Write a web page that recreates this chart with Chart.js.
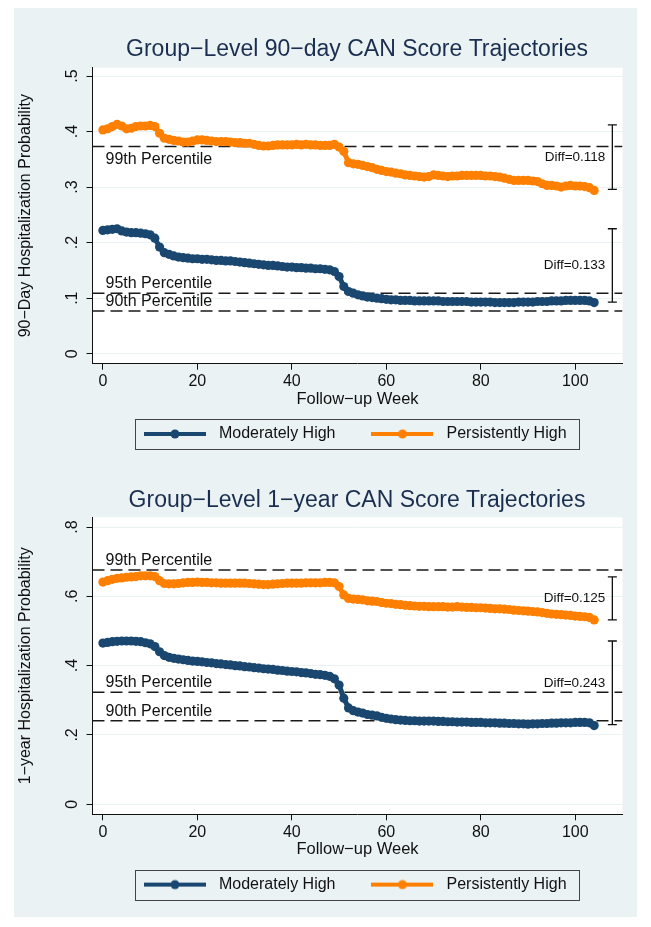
<!DOCTYPE html>
<html>
<head>
<meta charset="utf-8">
<script src="https://cdn.jsdelivr.net/npm/chart.js@4.4.1/dist/chart.umd.min.js"></script>
<style>
  html, body { margin: 0; padding: 0; background: #fff; }
  #page { position: relative; width: 651px; height: 927px; overflow: hidden; }
  #panel { position: absolute; left: 14px; top: 8px; width: 623px; height: 909px; background: #eaf2f3; }
  canvas { position: absolute; left: 0; }
  #c1 { top: 0; }
  #c2 { top: 480px; }
</style>
</head>
<body>
<div id="page">
  <div id="panel"></div>
  <canvas id="c1" width="651" height="480"></canvas>
  <canvas id="c2" width="651" height="447"></canvas>
</div>
<script>
// follow-up weeks
var weeks = [0,1,2,3,4,5,6,7,8,9,10,11,12,13,14,15,16,17,18,19,20,21,22,23,24,25,26,27,28,29,
  30,31,32,33,34,35,36,37,38,39,40,41,42,43,44,45,46,47,48,49,50,51,52,53,54,55,56,57,58,59,
  60,61,62,63,64,65,66,67,68,69,70,71,72,73,74,75,76,77,78,79,80,81,82,83,84,85,86,87,88,89,
  90,91,92,93,94,95,96,97,98,99,100,101,102,103,104];

// 90-day probabilities
var moderate90 = [0.222,0.223,0.224,0.225,0.221,0.219,0.218,0.218,0.217,0.216,
  0.214,0.208,0.192,0.182,0.179,0.176,0.174,0.173,0.172,0.171,
  0.171,0.170,0.170,0.169,0.168,0.168,0.167,0.167,0.166,0.165,
  0.164,0.163,0.162,0.161,0.160,0.159,0.159,0.158,0.157,0.156,
  0.156,0.155,0.155,0.154,0.154,0.153,0.153,0.152,0.151,0.148,
  0.139,0.121,0.112,0.109,0.106,0.104,0.102,0.101,0.100,0.099,
  0.098,0.097,0.097,0.096,0.096,0.096,0.095,0.095,0.095,0.095,
  0.095,0.095,0.094,0.094,0.094,0.094,0.094,0.094,0.093,0.093,
  0.093,0.093,0.093,0.092,0.092,0.092,0.092,0.092,0.093,0.093,
  0.093,0.093,0.094,0.094,0.094,0.095,0.095,0.095,0.096,0.096,
  0.096,0.096,0.096,0.095,0.092];
var persistent90 = [0.403,0.405,0.409,0.413,0.410,0.405,0.406,0.409,0.410,0.410,
  0.411,0.409,0.397,0.388,0.386,0.384,0.383,0.381,0.381,0.383,
  0.385,0.385,0.384,0.383,0.382,0.382,0.382,0.381,0.380,0.380,
  0.379,0.379,0.377,0.375,0.374,0.374,0.375,0.376,0.376,0.376,
  0.376,0.377,0.376,0.377,0.376,0.376,0.375,0.375,0.375,0.377,
  0.372,0.364,0.344,0.342,0.341,0.339,0.337,0.335,0.332,0.330,
  0.328,0.327,0.325,0.324,0.322,0.321,0.320,0.319,0.318,0.319,
  0.322,0.321,0.320,0.319,0.320,0.320,0.321,0.321,0.321,0.321,
  0.321,0.320,0.320,0.319,0.318,0.316,0.314,0.312,0.312,0.312,
  0.312,0.311,0.310,0.306,0.303,0.303,0.302,0.300,0.302,0.303,
  0.302,0.302,0.301,0.299,0.294];

// 1-year probabilities
var moderate1y = [0.465,0.467,0.469,0.470,0.471,0.471,0.471,0.470,0.469,0.466,
  0.463,0.455,0.440,0.429,0.424,0.421,0.419,0.417,0.415,0.413,
  0.412,0.411,0.409,0.408,0.406,0.405,0.403,0.402,0.400,0.399,
  0.397,0.396,0.394,0.393,0.391,0.390,0.389,0.387,0.386,0.384,
  0.383,0.382,0.380,0.379,0.377,0.375,0.374,0.372,0.369,0.362,
  0.344,0.306,0.278,0.270,0.266,0.263,0.259,0.257,0.255,0.251,
  0.248,0.246,0.244,0.243,0.242,0.241,0.241,0.240,0.240,0.240,
  0.240,0.239,0.239,0.238,0.238,0.237,0.237,0.237,0.236,0.236,
  0.236,0.235,0.235,0.235,0.234,0.234,0.233,0.233,0.232,0.232,
  0.231,0.232,0.232,0.233,0.233,0.234,0.234,0.235,0.235,0.235,
  0.236,0.236,0.236,0.235,0.227];
var persistent1y = [0.641,0.645,0.649,0.652,0.653,0.655,0.656,0.657,0.659,0.659,
  0.659,0.657,0.645,0.637,0.636,0.636,0.637,0.639,0.640,0.640,
  0.641,0.640,0.640,0.639,0.639,0.638,0.638,0.638,0.638,0.638,
  0.638,0.637,0.636,0.635,0.634,0.634,0.635,0.636,0.637,0.638,
  0.638,0.638,0.638,0.639,0.639,0.639,0.639,0.640,0.640,0.639,
  0.628,0.604,0.594,0.592,0.591,0.590,0.587,0.586,0.585,0.582,
  0.580,0.579,0.577,0.576,0.574,0.573,0.572,0.571,0.571,0.570,
  0.570,0.570,0.570,0.569,0.569,0.570,0.569,0.568,0.568,0.567,
  0.567,0.566,0.565,0.564,0.564,0.563,0.562,0.560,0.559,0.558,
  0.557,0.556,0.555,0.553,0.551,0.549,0.548,0.547,0.546,0.545,
  0.543,0.542,0.541,0.539,0.532];

var seriesNames = ['Moderately High', 'Persistently High'];
var xTicks = [0, 20, 40, 60, 80, 100];
var yTicks90 = [0, 0.1, 0.2, 0.3, 0.4, 0.5];
var yLabels90 = ['0', '.1', '.2', '.3', '.4', '.5'];
var yTicks1y = [0, 0.2, 0.4, 0.6, 0.8];
var yLabels1y = ['0', '.2', '.4', '.6', '.8'];

var pctNames = ['99th Percentile', '95th Percentile', '90th Percentile'];
var pct90 = [0.373, 0.109, 0.077];
var pct1y = [0.676, 0.323, 0.241];

var diffText90 = ['Diff=0.118', 'Diff=0.133'];
var diffHigh90 = [0.412, 0.225];
var diffLow90 = [0.296, 0.093];
var diffText1y = ['Diff=0.125', 'Diff=0.243'];
var diffHigh1y = [0.656, 0.471];
var diffLow1y = [0.532, 0.230];

var FONT = "'Liberation Sans', Arial, Helvetica, sans-serif";
var NAVY = '#1a476f';
var ORANGE = '#ff8000';
var X_MIN = -2.2, X_MAX = 110, DIFF_X = 107.85;
var TITLE_SIZE = 23;
var LEGEND_H = 57;   // 16 font + 31 padding + 10

function legendMark(color) {
  var c = document.createElement('canvas');
  c.width = 62; c.height = 12;
  var g = c.getContext('2d');
  g.strokeStyle = color;
  g.lineWidth = 4;
  g.beginPath(); g.moveTo(0, 6); g.lineTo(62, 6); g.stroke();
  g.fillStyle = color;
  g.beginPath(); g.arc(31, 6, 4.5, 0, Math.PI * 2); g.fill();
  return c;
}
var marks = [legendMark(NAVY), legendMark(ORANGE)];

function points(vals) {
  return weeks.map(function(w, i) { return {x: w, y: vals[i]}; });
}

function makeChart(id, cfg) {
  var xH = cfg.height - LEGEND_H - cfg.areaBottom;
  var xTitlePad = xH - 35.7 - 9.6;
  var legendTop = cfg.areaBottom + 70.3 - 39;
  var halfTitle = TITLE_SIZE * 1.2 / 2;

  var datasets = [
    { label: seriesNames[0], data: points(cfg.moderate), borderColor: NAVY, backgroundColor: NAVY,
      borderWidth: 5, pointRadius: 4.6, pointHoverRadius: 4.6, pointBorderWidth: 0, order: 0 },
    { label: seriesNames[1], data: points(cfg.persistent), borderColor: ORANGE, backgroundColor: ORANGE,
      borderWidth: 5, pointRadius: 4.6, pointHoverRadius: 4.6, pointBorderWidth: 0, order: 0 }
  ];
  cfg.pct.forEach(function(v) {
    datasets.push({ data: [{x: X_MIN, y: v}, {x: X_MAX, y: v}], borderColor: '#1a1a1a', borderWidth: 1.5,
      borderDash: [12, 6], pointRadius: 0, order: 1 });
  });

  var decor = {
    id: 'decor',
    afterUpdate: function(chart) {
      chart.titleBlock.left = 63;
      chart.titleBlock.right = chart.width;
      var lg = chart.legend;
      lg.left = 54.5; lg.right = chart.width;
      lg.top = legendTop; lg.bottom = legendTop + lg.height;
    },
    beforeDraw: function(chart) {
      var a = chart.chartArea, ctx = chart.ctx;
      ctx.save();
      ctx.fillStyle = '#fff';
      ctx.fillRect(a.left, a.top, a.right - a.left, a.bottom - a.top);
      ctx.restore();
    },
    afterDraw: function(chart) {
      var ctx = chart.ctx, a = chart.chartArea;
      var xs = chart.scales.x, ys = chart.scales.y;
      ctx.save();
      // percentile labels
      ctx.font = '16px ' + FONT;
      ctx.fillStyle = '#111';
      ctx.textAlign = 'left';
      ctx.textBaseline = 'alphabetic';
      cfg.pct.forEach(function(v, i) {
        var y = ys.getPixelForValue(v);
        ctx.fillText(pctNames[i], a.left + 13, cfg.pctSide[i] === 'below' ? y + 17.5 : y - 5);
      });
      // difference brackets
      var bx = xs.getPixelForValue(DIFF_X);
      ctx.strokeStyle = '#111';
      ctx.lineWidth = 1.3;
      ctx.font = '13.5px ' + FONT;
      ctx.textAlign = 'right';
      ctx.textBaseline = 'middle';
      cfg.diffText.forEach(function(t, i) {
        var y1 = ys.getPixelForValue(cfg.diffHigh[i]);
        var y2 = ys.getPixelForValue(cfg.diffLow[i]);
        ctx.beginPath();
        ctx.moveTo(bx, y1); ctx.lineTo(bx, y2);
        ctx.moveTo(bx - 4.5, y1); ctx.lineTo(bx + 4.5, y1);
        ctx.moveTo(bx - 4.5, y2); ctx.lineTo(bx + 4.5, y2);
        ctx.stroke();
        ctx.fillText(t, bx - 7, (y1 + y2) / 2);
      });
      // legend frame
      var lg = chart.legend;
      var pad = lg.options.labels.padding;
      var w = lg.lineWidths[0] - pad;
      var x0 = (lg.left + lg.right) / 2 - w / 2;
      var cy = lg.top + pad + 8;
      ctx.strokeStyle = '#444';
      ctx.lineWidth = 1;
      ctx.strokeRect(Math.round(x0 - 4) + 0.5, Math.round(cy - 15) + 0.5, Math.round(w + 16), 30);
      ctx.restore();
    }
  };

  return new Chart(document.getElementById(id), {
    type: 'line',
    data: { datasets: datasets },
    options: {
      responsive: false,
      animation: false,
      devicePixelRatio: 1,
      events: [],
      layout: { padding: { left: 0, right: 28.5, top: 0, bottom: 0 }, autoPadding: false },
      elements: { line: { tension: 0 } },
      scales: {
        x: {
          type: 'linear', min: X_MIN, max: X_MAX,
          afterBuildTicks: function(s) { s.ticks = xTicks.map(function(v) { return {value: v}; }); },
          afterFit: function(s) { s.height = xH; },
          ticks: { maxRotation: 0, autoSkip: false, padding: 2.4, color: '#111', font: {size: 16, family: FONT} },
          grid: { drawOnChartArea: false, tickColor: '#111', tickLength: 6 },
          border: { color: '#111', width: 1 },
          title: { display: true, text: 'Follow\u2212up Week', color: '#111', font: {size: 16.5, family: FONT},
            padding: { top: 0, bottom: xTitlePad } }
        },
        y: {
          type: 'linear', min: cfg.yMin, max: cfg.yMax,
          afterBuildTicks: function(s) { s.ticks = cfg.yTicks.map(function(v) { return {value: v}; }); },
          afterFit: function(s) { s.width = 92.5; },
          ticks: { minRotation: 90, maxRotation: 90, crossAlign: 'center', autoSkip: false, padding: 6.8,
            color: '#111', font: {size: 16, family: FONT},
            callback: function(v) { return cfg.yLabels[cfg.yTicks.indexOf(v)]; } },
          grid: { color: '#eaf2f3', lineWidth: 1, tickColor: '#111', tickLength: 6 },
          border: { color: '#111', width: 1 },
          title: { display: true, text: cfg.yTitle, color: '#111', font: {size: 16, family: FONT},
            padding: { top: 16.4, bottom: 0 } }
        }
      },
      plugins: {
        tooltip: { enabled: false },
        title: {
          display: true, text: cfg.title, color: '#1a2e4f',
          font: { size: TITLE_SIZE, family: FONT, weight: 'normal' },
          padding: { top: cfg.titleCenter - halfTitle, bottom: cfg.areaTop - cfg.titleCenter - halfTitle }
        },
        legend: {
          display: true, position: 'bottom',
          labels: {
            usePointStyle: true, pointStyleWidth: 72, padding: 31, color: '#111',
            font: { size: 16, family: FONT },
            generateLabels: function(chart) {
              var items = Chart.defaults.plugins.legend.labels.generateLabels(chart);
              items.forEach(function(it) { it.pointStyle = marks[it.datasetIndex]; });
              return items;
            },
            filter: function(item) { return seriesNames.indexOf(item.text) >= 0; }
          }
        }
      }
    },
    plugins: [decor]
  });
}

makeChart('c1', {
  height: 480, areaTop: 67.7, areaBottom: 363.7, titleCenter: 49.4,
  title: 'Group\u2212Level 90\u2212day CAN Score Trajectories',
  yTitle: '90\u2212Day Hospitalization Probability',
  yMin: -0.018, yMax: 0.515, yTicks: yTicks90, yLabels: yLabels90,
  moderate: moderate90, persistent: persistent90,
  pct: pct90, pctSide: ['below', 'above', 'above'],
  diffText: diffText90, diffHigh: diffHigh90, diffLow: diffLow90
});

makeChart('c2', {
  height: 447, areaTop: 37.3, areaBottom: 334.3, titleCenter: 21,
  title: 'Group\u2212Level 1\u2212year CAN Score Trajectories',
  yTitle: '1\u2212year Hospitalization Probability',
  yMin: -0.029, yMax: 0.828, yTicks: yTicks1y, yLabels: yLabels1y,
  moderate: moderate1y, persistent: persistent1y,
  pct: pct1y, pctSide: ['above', 'above', 'above'],
  diffText: diffText1y, diffHigh: diffHigh1y, diffLow: diffLow1y
});
</script>
</body>
</html>
